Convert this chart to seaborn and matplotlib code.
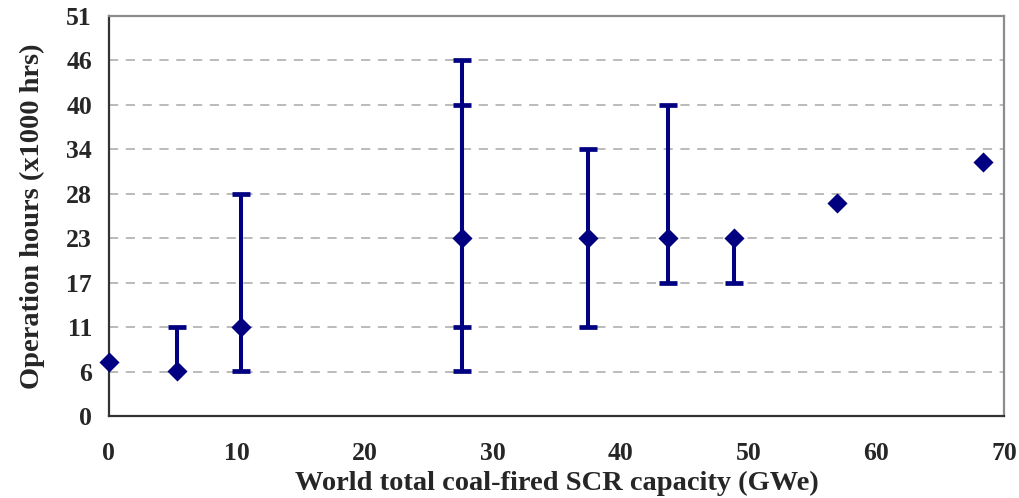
"""
Scatter of SCR operation hours against world coal-fired SCR capacity,
with vertical range bars, in the style of the original Excel figure.
"""

import matplotlib

matplotlib.use("Agg")
import matplotlib.pyplot as plt
import numpy as np
import pandas as pd
import seaborn as sns

# ==============================================================================
# DATA
# ==============================================================================
CAPACITY_GWE = [0.0, 5.35, 10.3, 27.6, 37.5, 43.7, 48.9, 56.9, 68.3]
HOURS_K = [6.9, 5.67, 11.33, 22.67, 22.67, 22.67, 22.67, 27.1, 32.4]
RANGE_LOW = [np.nan, np.nan, 5.67, 5.67, 11.33, 17.0, 17.0, np.nan, np.nan]
RANGE_HIGH = [np.nan, 11.33, 28.33, 45.33, 34.0, 39.67, np.nan, np.nan, np.nan]

# second (inner) range shown on the ~28 GWe point
INNER_CAPACITY = [27.6]
INNER_HOURS = [22.67]
INNER_LOW = [11.33]
INNER_HIGH = [39.67]

Y_MAX = 51
Y_TICKS = np.linspace(0, Y_MAX, 10)
Y_TICK_LABELS = ["0", "6", "11", "17", "23", "28", "34", "40", "46", "51"]
X_TICKS = [0, 10, 20, 30, 40, 50, 60, 70]

NAVY = "#000080"
FONT = ["Liberation Serif", "DejaVu Serif"]
TICK_FS = 18.5
LABEL_FS = 20.5


def draw_ranges(ax, x, y, low, high):
    """Vertical range lines with flat caps at every defined bound."""
    x = np.asarray(x, dtype=float)
    y = np.asarray(y, dtype=float)
    low = np.asarray(low, dtype=float)
    high = np.asarray(high, dtype=float)

    lo = np.where(np.isnan(low), y, low)
    hi = np.where(np.isnan(high), y, high)
    ax.vlines(x, lo, hi, color=NAVY, linewidth=2.9, zorder=3)

    for bound in (low, high):
        mask = ~np.isnan(bound)
        ax.plot(
            x[mask],
            bound[mask],
            linestyle="none",
            marker="_",
            markersize=12.5,
            markeredgewidth=3.4,
            color=NAVY,
            zorder=3,
        )


def main():
    sns.set_style("white")
    plt.rcParams["font.family"] = FONT
    plt.rcParams["font.weight"] = "bold"

    df = pd.DataFrame({"capacity": CAPACITY_GWE, "hours": HOURS_K})

    fig = plt.figure(figsize=(10.2, 4.98), dpi=100)
    ax = fig.add_axes([0.1066, 0.1647, 0.8780, 0.8038])

    # dashed horizontal gridlines at the inner y ticks
    for yv in Y_TICKS[1:-1]:
        ax.axhline(yv, color="#a8a8a8", linewidth=1.1, linestyle=(0, (6, 5)), zorder=1)

    draw_ranges(ax, CAPACITY_GWE, HOURS_K, RANGE_LOW, RANGE_HIGH)
    draw_ranges(ax, INNER_CAPACITY, INNER_HOURS, INNER_LOW, INNER_HIGH)

    sns.scatterplot(
        data=df,
        x="capacity",
        y="hours",
        marker="D",
        s=105,
        color=NAVY,
        edgecolor=NAVY,
        linewidth=0,
        zorder=4,
        clip_on=False,
        ax=ax,
    )

    ax.set_xlim(0, 70)
    ax.set_ylim(0, Y_MAX)
    ax.set_xticks(X_TICKS)
    ax.set_yticks(Y_TICKS)
    ax.set_yticklabels(Y_TICK_LABELS)

    ax.tick_params(axis="both", direction="out", length=6, width=1.2,
                   color="#333333", labelsize=TICK_FS)
    ax.tick_params(axis="x", pad=13)
    ax.tick_params(axis="y", pad=6)
    for lab in ax.get_xticklabels() + ax.get_yticklabels():
        lab.set_fontweight("bold")

    ax.set_xlabel("World total coal-fired SCR capacity (GWe)", fontsize=LABEL_FS,
                  fontweight="bold", labelpad=4)
    ax.set_ylabel("Operation hours (x1000 hrs)", fontsize=LABEL_FS,
                  fontweight="bold", labelpad=15)

    for side in ("left", "bottom"):
        ax.spines[side].set_color("#333333")
        ax.spines[side].set_linewidth(1.6)
    for side in ("top", "right"):
        ax.spines[side].set_color("#8c8c8c")
        ax.spines[side].set_linewidth(1.6)

    fig.savefig("out.png", dpi=100)
    plt.close(fig)


if __name__ == "__main__":
    main()
